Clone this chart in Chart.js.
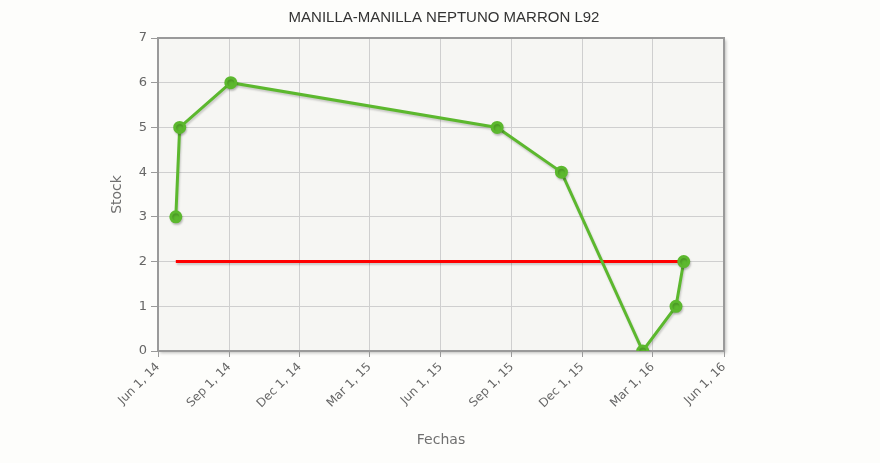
<!DOCTYPE html>
<html>
<head>
<meta charset="utf-8">
<script src="https://cdn.jsdelivr.net/npm/chart.js@4"></script>
<style>
  html, body { margin: 0; padding: 0; background: #fdfdfb; }
  #wrap { width: 880px; height: 463px; }
</style>
</head>
<body>
<div id="wrap"><canvas id="c" width="880" height="463"></canvas></div>
<script>
// datos
const titulo = 'MANILLA-MANILLA NEPTUNO MARRON L92';
const fechas = ['2014-06-24', '2014-06-29', '2014-09-03', '2015-08-13', '2015-11-04', '2016-02-17', '2016-03-31', '2016-04-10'];
const stock = [3, 5, 6, 5, 4, 0, 1, 2];
const fechasMinimo = ['2014-06-24', '2016-04-10'];
const stockMinimo = [2, 2];
const tickFechas = ['2014-06-01', '2014-09-01', '2014-12-01', '2015-03-01', '2015-06-01', '2015-09-01', '2015-12-01', '2016-03-01', '2016-06-01'];
const tickLabels = ['Jun 1, 14', 'Sep 1, 14', 'Dec 1, 14', 'Mar 1, 15', 'Jun 1, 15', 'Sep 1, 15', 'Dec 1, 15', 'Mar 1, 16', 'Jun 1, 16'];

const t = s => Date.parse(s);
const tickValues = tickFechas.map(t);

// fondo y marco del area de trazado
const plotFrame = {
  id: 'plotFrame',
  beforeDraw(chart) {
    const { ctx, chartArea: a } = chart;
    ctx.save();
    ctx.shadowColor = 'rgba(0,0,0,0.25)';
    ctx.shadowBlur = 3;
    ctx.shadowOffsetX = 2;
    ctx.shadowOffsetY = 2;
    ctx.fillStyle = '#f6f6f3';
    ctx.fillRect(a.left, a.top, a.right - a.left, a.bottom - a.top);
    ctx.restore();
  },
  afterDraw(chart) {
    const { ctx, chartArea: a } = chart;
    ctx.save();
    ctx.strokeStyle = '#9a9a9a';
    ctx.lineWidth = 2;
    ctx.beginPath();
    ctx.moveTo(a.left, a.top);
    ctx.lineTo(a.right, a.top);
    ctx.lineTo(a.right, a.bottom);
    ctx.stroke();
    // titulo centrado en todo el ancho
    ctx.fillStyle = '#333';
    ctx.font = '15px "Liberation Sans"';
    ctx.textAlign = 'center';
    ctx.textBaseline = 'middle';
    ctx.fillText(titulo, chart.width / 2 + 4, 17.5);
    ctx.restore();
  }
};

// sombra suave bajo las lineas
const lineShadow = {
  id: 'lineShadow',
  beforeDatasetDraw(chart) {
    const ctx = chart.ctx;
    ctx.save();
    ctx.shadowColor = 'rgba(0,0,0,0.18)';
    ctx.shadowBlur = 2;
    ctx.shadowOffsetX = 1;
    ctx.shadowOffsetY = 2;
  },
  afterDatasetDraw(chart) {
    chart.ctx.restore();
  }
};

new Chart(document.getElementById('c'), {
  type: 'line',
  data: {
    datasets: [
      {
        label: 'Stock',
        data: fechas.map((f, i) => ({ x: t(f), y: stock[i] })),
        borderColor: '#5cb82e',
        backgroundColor: '#5cb82e',
        borderWidth: 3,
        pointRadius: 5,
        pointHoverRadius: 5,
        tension: 0,
        order: 1
      },
      {
        label: 'Minimo',
        data: fechasMinimo.map((f, i) => ({ x: t(f), y: stockMinimo[i] })),
        borderColor: '#ff0000',
        borderWidth: 3,
        pointRadius: 0,
        tension: 0,
        order: 2
      }
    ]
  },
  options: {
    responsive: false,
    animation: false,
    devicePixelRatio: 1,
    layout: { padding: { left: 105, right: 156, bottom: 10, top: 38 } },
    plugins: {
      legend: { display: false },
      tooltip: { enabled: false },
      title: { display: false }
    },
    scales: {
      x: {
        type: 'linear',
        min: tickValues[0],
        max: tickValues[tickValues.length - 1],
        afterBuildTicks(scale) {
          scale.ticks = tickValues.map(v => ({ value: v }));
        },
        afterFit(scale) { scale.height = 102; },
        grid: { color: '#cfcfcf', tickColor: '#9a9a9a', tickLength: 6 },
        border: { color: '#9a9a9a', width: 2 },
        ticks: {
          autoSkip: false,
          minRotation: 45,
          maxRotation: 45,
          color: '#666',
          font: { family: 'DejaVu Sans', size: 12 },
          callback(v) {
            const i = tickValues.indexOf(v);
            return i >= 0 ? tickLabels[i] : '';
          }
        },
        title: {
          display: true,
          text: 'Fechas',
          color: '#707070',
          font: { family: 'DejaVu Sans', size: 14 }
        }
      },
      y: {
        min: 0,
        max: 7,
        afterFit(scale) { scale.width = 53; },
        grid: { color: '#cfcfcf', tickColor: '#9a9a9a', tickLength: 7 },
        border: { color: '#9a9a9a', width: 2 },
        ticks: {
          stepSize: 1,
          color: '#666',
          padding: 4,
          font: { family: 'DejaVu Sans', size: 13 }
        },
        title: {
          display: true,
          text: 'Stock',
          color: '#707070',
          font: { family: 'DejaVu Sans', size: 14 }
        }
      }
    }
  },
  plugins: [plotFrame, lineShadow]
});
</script>
</body>
</html>
